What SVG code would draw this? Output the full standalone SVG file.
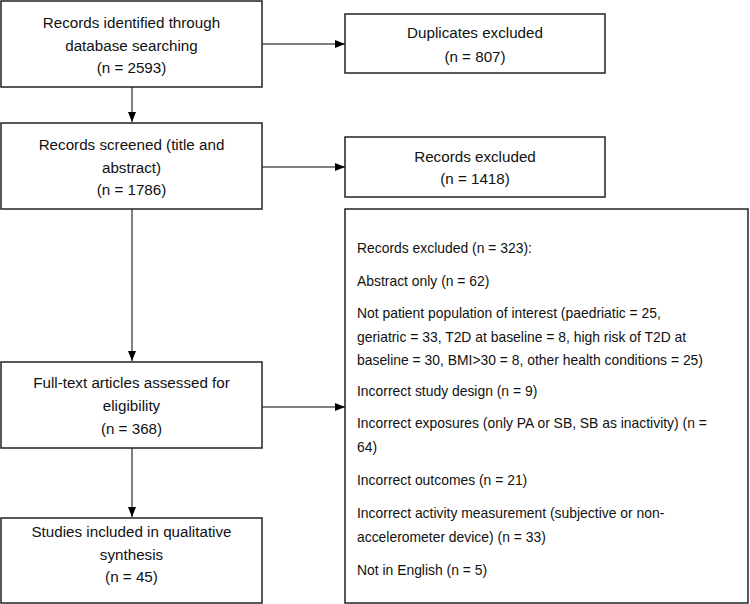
<svg xmlns="http://www.w3.org/2000/svg" width="750" height="604" viewBox="0 0 750 604">
<defs>
<marker id="ah" markerWidth="10" markerHeight="8" refX="10" refY="4" orient="auto" markerUnits="userSpaceOnUse">
<path d="M0,0 L10,4 L0,8 Z" fill="#000"/>
</marker>
<style>
.box{fill:#fff;stroke:#222;stroke-width:1.5}
.t{font-family:"Liberation Sans",Arial,sans-serif;font-size:15.2px;fill:#111}
.c{text-anchor:middle}
.l{font-size:13.9px}
.e{stroke:#000;stroke-width:1;fill:none;marker-end:url(#ah)}
</style>
</defs>
<rect width="750" height="604" fill="#fff"/>
<g id="connectors">
<line class="e" x1="262" y1="44" x2="345" y2="44"/>
<line class="e" x1="262" y1="167" x2="345" y2="167"/>
<line class="e" x1="262" y1="407" x2="345" y2="407"/>
<line class="e" x1="132" y1="87" x2="132" y2="122"/>
<line class="e" x1="132" y1="209" x2="132" y2="361"/>
<line class="e" x1="132" y1="448" x2="132" y2="517"/>
</g>
<g id="identified">
<rect class="box" x="1" y="1" width="261" height="86"/>
<text class="t c" x="131.5" y="28">Records identified through</text>
<text class="t c" x="131.5" y="51">database searching</text>
<text class="t c" x="131.5" y="73">(n = 2593)</text>
</g>
<g id="duplicates">
<rect class="box" x="345" y="14" width="260" height="59"/>
<text class="t c" x="475" y="38">Duplicates excluded</text>
<text class="t c" x="475" y="62">(n = 807)</text>
</g>
<g id="screened">
<rect class="box" x="1" y="123" width="261" height="86"/>
<text class="t c" x="131.5" y="150">Records screened (title and</text>
<text class="t c" x="131.5" y="173">abstract)</text>
<text class="t c" x="131.5" y="195">(n = 1786)</text>
</g>
<g id="excluded1">
<rect class="box" x="345" y="137" width="260" height="60"/>
<text class="t c" x="475" y="162">Records excluded</text>
<text class="t c" x="475" y="184">(n = 1418)</text>
</g>
<g id="fulltext">
<rect class="box" x="1" y="362" width="261" height="86"/>
<text class="t c" x="131.5" y="388">Full-text articles assessed for</text>
<text class="t c" x="131.5" y="411">eligibility</text>
<text class="t c" x="131.5" y="434">(n = 368)</text>
</g>
<g id="included">
<rect class="box" x="1" y="518" width="261" height="85"/>
<text class="t c" x="131.5" y="537">Studies included in qualitative</text>
<text class="t c" x="131.5" y="560">synthesis</text>
<text class="t c" x="131.5" y="582">(n = 45)</text>
</g>
<g id="excluded2">
<rect class="box" x="345" y="209" width="403" height="394"/>
<text class="t l" x="357" y="253">Records excluded (n = 323):</text>
<text class="t l" x="357" y="286">Abstract only (n = 62)</text>
<text class="t l" x="357" y="318">Not patient population of interest (paedriatic = 25,</text>
<text class="t l" x="357" y="342">geriatric = 33, T2D at baseline = 8, high risk of T2D at</text>
<text class="t l" x="357" y="365">baseline = 30, BMI&gt;30 = 8, other health conditions = 25)</text>
<text class="t l" x="357" y="396">Incorrect study design (n = 9)</text>
<text class="t l" x="357" y="428">Incorrect exposures (only PA or SB, SB as inactivity) (n =</text>
<text class="t l" x="357" y="452">64)</text>
<text class="t l" x="357" y="485">Incorrect outcomes (n = 21)</text>
<text class="t l" x="357" y="518">Incorrect activity measurement (subjective or non-</text>
<text class="t l" x="357" y="542">accelerometer device) (n = 33)</text>
<text class="t l" x="357" y="575">Not in English (n = 5)</text>
</g>
</svg>
